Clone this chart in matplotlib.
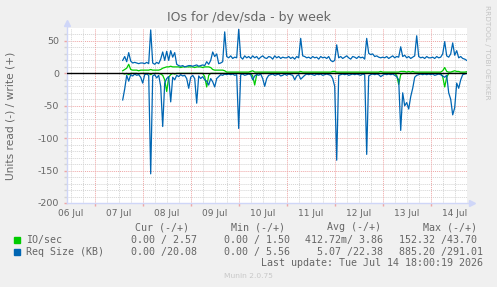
import numpy as np
import matplotlib.pyplot as plt
from matplotlib.patches import Rectangle

# Hourly samples from 07 Jul 14:00 to 14 Jul 18:00
start_hour = 38  # hours after 06 Jul 00:00

# Req Size (KB), write (+) and read (-)
req_write = [
    20, 26, 18, 32, 19, 16, 17, 16, 15, 16,  # 07 Jul 14-23h
    16, 15, 17, 15, 67, 16, 14, 17, 15, 22, 33, 20, 34, 20, 35, 25, 32, 14, 12, 11, 12, 10, 11, 12,  # 08 Jul
    12, 11, 12, 13, 11, 12, 13, 12, 18, 14, 20, 33, 26, 30, 15, 16, 18, 64, 26, 24, 27, 23, 25, 24,  # 09 Jul
    68, 25, 22, 27, 24, 26, 23, 27, 24, 26, 22, 25, 27, 24, 23, 26, 25, 22, 27, 24, 26, 23, 25, 24,  # 10 Jul
    24, 26, 23, 25, 22, 26, 24, 54, 27, 26, 24, 25, 23, 26, 24, 25, 22, 26, 24, 25, 23, 26, 20, 18,  # 11 Jul
    20, 44, 24, 26, 23, 25, 27, 24, 22, 26, 25, 23, 26, 24, 25, 22, 54, 31, 29, 30, 26, 27, 25, 24,  # 12 Jul
    25, 24, 26, 23, 25, 27, 24, 26, 25, 41, 26, 28, 24, 26, 23, 25, 27, 58, 26, 24, 25, 23, 26, 24,  # 13 Jul
    24, 25, 23, 26, 24, 25, 30, 49, 27, 25, 30, 47, 28, 35, 24, 26, 23, 22, 20,  # 14 Jul 0-18h
]
req_read = [
    -41, -24, -3, -12, -2, -4, -1, -3, -2, -6,
    -15, -2, -1, -3, -155, -4, -2, -7, -3, -20, -82, -15, -8, -5, -44, -6, -10, -3, -5, -2, -4, -3, -8, -23,
    -6, -3, -8, -46, -4, -8, -5, -10, -12, -18, -8, -13, -21, -8, -5, -2, -3, -1, -2, -1, -2, -1, -3, -2,
    -85, -2, -1, -3, -2, -1, -2, -10, -4, -2, -3, -1, -8, -20, -8, -3, -2, -1, -3, -2, -1, -4, -3, -1,
    -3, -1, -2, -3, -10, -4, -2, -9, -6, -3, -1, -2, -1, -2, -3, -1, -2, -1, -3, -2, -1, -2, -3, -8,
    -20, -134, -3, -2, -1, -2, -1, -3, -2, -1, -2, -1, -2, -3, -1, -2, -125, -4, -2, -1, -2, -1, -2, -5,
    -3, -1, -2, -1, -2, -1, -3, -5, -10, -88, -30, -50, -45, -55, -36, -23, -6, -3, -2, -1, -2, -1, -2, -1,
    -2, -1, -3, -2, -1, -2, -4, -6, -3, -30, -40, -64, -53, -15, -23, -10, -2, -1, 0,
]

# IO/sec, write (+) and read (-)
io_write = [
    4, 6, 8, 14, 6, 5, 5, 5, 4, 5,
    5, 5, 5, 5, 6, 5, 5, 5, 5, 6, 8, 9, 10, 10, 11, 10, 10, 10, 10, 9, 10, 10, 10, 10,
    10, 10, 9, 10, 10, 10, 9, 10, 10, 10, 9, 6, 5, 5, 5, 5, 5, 4, 2, 2, 2, 2, 2, 2,
    2, 2, 2, 2, 2, 2, 3, 4, 2, 2, 2, 2, 2, 2, 2, 2, 2, 2, 2, 2, 2, 2, 2, 2,
    2, 2, 2, 2, 2, 2, 2, 3, 2, 2, 2, 2, 2, 2, 2, 2, 2, 2, 2, 2, 2, 2, 2, 3,
    3, 2, 2, 2, 2, 2, 2, 2, 2, 2, 2, 2, 2, 2, 2, 2, 2, 2, 2, 2, 2, 2, 2, 3,
    2, 2, 2, 2, 2, 2, 2, 2, 2, 3, 3, 3, 2, 3, 2, 3, 2, 2, 2, 2, 2, 2, 2, 2,
    2, 2, 2, 2, 2, 2, 4, 9, 3, 2, 2, 3, 4, 3, 3, 2, 2, 2, 2.5,
]
io_read = [
    0, -1, 0, -2, 0, 0, 0, 0, -1, 0,
    0, 0, 0, 0, -2, 0, 0, 0, 0, -1, -3, -10, -28, -6, -2, 0, -1, 0, 0, 0, 0, 0, 0, 0,
    0, 0, 0, 0, 0, 0, 0, -5, -21, -3, 0, 0, 0, 0, 0, 0, 0, 0, 0, 0, 0, 0, 0, 0,
    0, 0, 0, 0, 0, 0, 0, -4, -18, -2, 0, 0, 0, 0, 0, 0, 0, 0, 0, 0, 0, 0, 0, 0,
    0, 0, 0, 0, 0, 0, 0, 0, 0, 0, 0, 0, 0, 0, 0, 0, 0, 0, 0, 0, 0, 0, 0, 0,
    0, 0, 0, 0, 0, 0, 0, 0, 0, 0, 0, 0, 0, 0, 0, 0, 0, 0, 0, 0, 0, 0, 0, 0,
    0, 0, 0, 0, 0, 0, 0, -3, -17, -2, 0, 0, 0, 0, 0, 0, 0, 0, 0, 0, 0, 0, 0, 0,
    0, 0, 0, 0, 0, 0, -5, -21, -6, 0, 0, 0, 0, 0, 0, 0, 0, 0, 0,
]

day_labels = ["06 Jul", "07 Jul", "08 Jul", "09 Jul", "10 Jul", "11 Jul", "12 Jul", "13 Jul", "14 Jul"]
y_ticks = [-200, -150, -100, -50, 0, 50]

legend_header = ["Cur (-/+)", "Min (-/+)", "Avg (-/+)", "Max (-/+)"]
io_stats = ["0.00 / 2.57", "0.00 / 1.50", "412.72m/ 3.86", "152.32 /43.70"]
req_stats = ["0.00 /20.08", "0.00 / 5.56", "5.07 /22.38", "885.20 /291.01"]

green = '#00CC00'
blue = '#0066B3'
font_c = '#666666'
axis_c = '#CFD6F8'
grid_c = '#d4d4d4'
mgrid_c = '#eea6a6'

W, H = 497, 287


def fx(px):
    return px / W


def fy(py):
    return 1 - py / H


fig = plt.figure(figsize=(W / 100, H / 100), dpi=100)
fig.patch.set_facecolor('#F0F0F0')
ax = fig.add_axes([fx(67), fy(203), 400 / W, 175 / H])
ax.set_facecolor('white')
ax.set_xlim(10.15, 210.15)
ax.set_ylim(-200, 70)

# grid: gray every 10 / 6h, red every 50 / midnight
dots = (0, (1, 1))
for v in range(-190, 70, 10):
    if v % 50:
        ax.axhline(v, color=grid_c, lw=0.7, ls=dots, zorder=0)
for v in range(-150, 70, 50):
    ax.axhline(v, color=mgrid_c, lw=0.7, ls=dots, zorder=0)
for h in range(12, 211, 6):
    c = mgrid_c if h % 24 == 0 else grid_c
    ax.axvline(h, color=c, lw=0.7, ls=dots, zorder=0)

x = start_hour + np.arange(len(req_write))
ax.plot(x, io_write, color=green, lw=0.9, zorder=2)
ax.plot(x, io_read, color=green, lw=0.9, zorder=2)
ax.plot(x, req_write, color=blue, lw=0.9, zorder=3)
ax.plot(x, req_read, color=blue, lw=0.9, zorder=3)
ax.axhline(0, color='black', lw=1.0, zorder=5)

for s in ax.spines.values():
    s.set_visible(False)
ax.plot([0, 0], [0, 1.025], color=axis_c, lw=1, transform=ax.transAxes, clip_on=False)
ax.plot([0, 1.01], [0, 0], color=axis_c, lw=1, transform=ax.transAxes, clip_on=False)
ax.plot([0], [1.03], marker='^', ms=4, color=axis_c, transform=ax.transAxes, clip_on=False)
ax.plot([1.012], [0], marker='>', ms=4, color=axis_c, transform=ax.transAxes, clip_on=False)

ax.set_xticks([12 + 24 * i for i in range(len(day_labels))])
ax.set_xticklabels(day_labels)
ax.set_xticks(range(24, 210, 24), minor=True)
ax.set_yticks(y_ticks)
ax.set_yticklabels([str(v) for v in y_ticks])
ax.set_yticks([v for v in range(-190, 70, 10) if v % 50], minor=True)
ax.tick_params(axis='x', which='major', length=0, labelsize=6.5, labelcolor=font_c, pad=4)
ax.tick_params(axis='y', which='major', length=2, width=1, color=mgrid_c,
               labelsize=6.8, labelcolor=font_c, pad=3.5)
ax.tick_params(axis='y', which='minor', length=2, width=1, color=grid_c)
ax.tick_params(axis='x', which='minor', length=2, width=1, color=mgrid_c, direction='out')

fig.text(0.5, fy(17), "IOs for /dev/sda - by week", ha='center', va='center',
         fontsize=9, color=font_c)
fig.text(fx(11), fy(116), "Units read (-) / write (+)", rotation=90, ha='center',
         va='center', fontsize=7.7, color=font_c)
fig.text(fx(487.5), fy(52), "RRDTOOL / TOBI OETIKER", rotation=270, ha='center',
         va='center', fontsize=5.3, color='#c4c4c4')

mono = dict(family='DejaVu Sans Mono', fontsize=7.2, color=font_c, va='center')
for txt, px in zip(legend_header, [135, 230.7, 327.3, 422.7]):
    fig.text(fx(px), fy(227.5), txt, **mono)

fig.add_artist(Rectangle((fx(14), fy(243)), 6 / W, 6 / H, color=green, transform=fig.transFigure))
fig.add_artist(Rectangle((fx(14), fy(255)), 6 / W, 6 / H, color=blue, transform=fig.transFigure))
fig.text(fx(26.5), fy(240), "IO/sec", **mono)
fig.text(fx(26.5), fy(251.8), "Req Size (KB)", **mono)
for txt, px in zip(io_stats, [197, 290, 383, 477]):
    fig.text(fx(px), fy(240), txt, ha='right', **mono)
for txt, px in zip(req_stats[:3], [197, 290, 383]):
    fig.text(fx(px), fy(251.8), txt, ha='right', **mono)
fig.text(fx(399), fy(251.8), req_stats[3], **mono)
fig.text(fx(483), fy(263.5), "Last update: Tue Jul 14 18:00:19 2026", ha='right', **mono)
fig.text(0.5, fy(276), "Munin 2.0.75", ha='center', va='center', fontsize=5.4, color='#c8c8c8')

fig.savefig('out.png', dpi=100, facecolor=fig.get_facecolor())
